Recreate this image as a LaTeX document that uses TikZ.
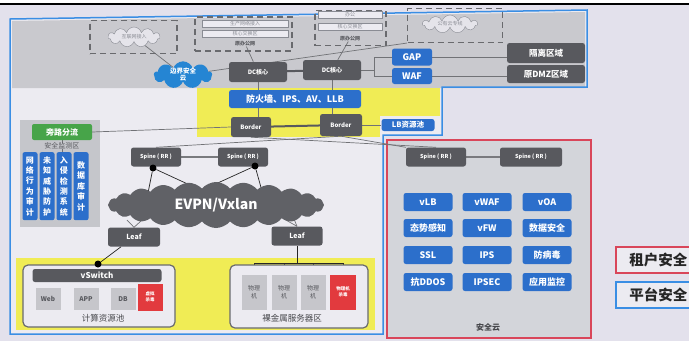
\documentclass[tikz,border=0pt]{standalone}
\usepackage{fontspec}
\setmainfont{Noto Sans CJK SC}
\usetikzlibrary{shapes.symbols,calc}
\pgfdeclarelayer{bg}\pgfdeclarelayer{ln}\pgfsetlayers{bg,ln,main}
\definecolor{pagebg}{HTML}{E3E1EC}
\definecolor{innerbg}{HTML}{ECEBF1}
\definecolor{band}{HTML}{C9C9CE}
\definecolor{dg}{HTML}{58595E}
\definecolor{bb}{HTML}{2C6FCB}
\definecolor{gr}{HTML}{47A449}
\definecolor{yel}{HTML}{F0EC55}
\definecolor{rd}{HTML}{E23A3E}
\definecolor{fb}{HTML}{3A8EE4}
\definecolor{fr}{HTML}{D9465A}
\definecolor{cg}{HTML}{D3D5DA}
\definecolor{vmg}{HTML}{C6C6CB}
\definecolor{panel}{HTML}{C5C6CB}
\definecolor{faint}{HTML}{8A8C94}
\tikzset{
  dnode/.style={fill=dg, rounded corners=2.5pt, text=white, font=\fontsize{6}{7}\selectfont\bfseries, inner sep=0pt},
  bnode/.style={fill=bb, rounded corners=2.5pt, text=white, font=\fontsize{9}{10}\selectfont\bfseries, inner sep=0pt},
  bbtn/.style={bnode, minimum width=49pt, minimum height=18pt},
  dbox/.style={draw=dg!90, dashed, dash pattern=on 6pt off 4pt, line width=1.1pt, inner sep=0pt},
  tcloud/.style={cloud, cloud puffs=11, cloud ignores aspect, draw=faint, fill=innerbg!80!band, text=faint, font=\fontsize{5}{6}\selectfont, inner sep=0pt},
  tbar/.style={draw=faint, fill=innerbg, text=faint, font=\fontsize{5}{6}\selectfont, minimum height=7pt, inner sep=0pt},
  ttxt/.style={text=dg, font=\fontsize{5}{6}\selectfont\bfseries, inner sep=0.5pt},
  conn/.style={draw=dg!85, line width=0.7pt},
  thick conn/.style={draw=dg, line width=2pt},
  vmbox/.style={fill=vmg, text=dg, font=\fontsize{6.5}{7}\selectfont\bfseries, inner sep=0pt, align=center},
  redbox/.style={fill=rd, text=white, font=\fontsize{4.5}{5.5}\selectfont\bfseries, inner sep=0pt, align=center},
  col/.style={fill=bb, rounded corners=2pt, text=white, font=\fontsize{8}{10.4}\selectfont\bfseries, minimum width=15pt, minimum height=68pt, text width=10pt, align=center, anchor=north, inner sep=1.5pt},
  stub/.style={draw=vmg!80!dg, line width=2.2pt, line cap=round},
  bdot/.style={circle, fill=black, minimum size=7pt, inner sep=0pt},
  grp/.style={draw=dg!90, fill=innerbg, rounded corners=5pt, line width=1.2pt, inner sep=0pt},
  legend/.style={fill=innerbg, line width=1.6pt, minimum width=85pt, minimum height=26pt, font=\fontsize{14.5}{16}\selectfont\bfseries, text=black!85, inner sep=0pt}
}
\begin{document}
\begin{tikzpicture}[x=1pt,y=-1pt]
\useasboundingbox (0,0) rectangle (689,341);
% ---------- background ----------
\begin{pgfonlayer}{bg}
\fill[pagebg] (0,0) rectangle (689,341);
\fill[white] (0,0) rectangle (689,2.5);
\fill[black] (0,2.5) rectangle (689,5);
\fill[innerbg] (10,19) -- (587,10) -- (587,87) -- (442,87) -- (442,135) -- (383,135) -- (383,334) -- (10,334) -- cycle;
\fill[band] (12,21) -- (585,12) -- (585,88) -- (12,88) -- cycle;
\fill[yel] (197,88) rectangle (440,116);
\fill[yel] (197,116) rectangle (380,137);
\fill[yel] (16,258) rectangle (375,330);
\fill[panel] (20,120) rectangle (100,227);
\fill[cg] (387,140) rectangle (591,338);
\draw[fr, line width=1.5pt] (387,140) rectangle (591,338);
\draw[fb, line width=1.5pt] (10,19) -- (587,10) -- (587,87) -- (442,87) -- (442,135) -- (383,135) -- (383,334) -- (10,334) -- cycle;
\end{pgfonlayer}
% ---------- top dashed areas ----------
\node[dbox, minimum width=87pt, minimum height=33pt] (box1) at (133.5,37) {};
\node[dbox, minimum width=97pt, minimum height=34pt] (box2) at (243.5,34) {};
\node[dbox, minimum width=71pt, minimum height=35pt] (box3) at (350.5,28) {};
\node[dbox, minimum width=95pt, minimum height=34pt] (box4) at (455,25.5) {};
\node[tcloud, minimum width=52pt, minimum height=20pt] (inet) at (134,37) {互联网接入};
\node[tbar, minimum width=86pt] (prod) at (245,23.5) {生产网络接入};
\node[tbar, minimum width=86pt] (core1) at (245,34) {核心交换区};
\node[ttxt] (oa1) at (245,43.5) {原办公网};
\node[tbar, minimum width=64pt] (off) at (350,15) {办公};
\node[tbar, minimum width=64pt] (core2) at (350,26.5) {核心交换区};
\node[ttxt] (oa2) at (350,38.5) {原办公网};
\node[tcloud, minimum width=55pt, minimum height=18pt] (pub) at (450,24) {公有云专线};
% ---------- core area ----------
\node[cloud, cloud puffs=9, cloud ignores aspect, fill=bb!85!cyan, minimum width=58pt, minimum height=25pt, text=white, font=\fontsize{6.5}{7}\selectfont\bfseries, align=center, inner sep=0pt] (bsec) at (183,75) {边界安全\\云};
\node[dnode, minimum width=58pt, minimum height=20pt] (dc1) at (258,72) {DC核心};
\node[dnode, minimum width=58pt, minimum height=20pt] (dc2) at (332,70) {DC核心};
\node[bnode, minimum width=40pt, minimum height=17pt] (gap) at (412,57) {GAP};
\node[bnode, minimum width=40pt, minimum height=16pt] (waf) at (412,76) {WAF};
\node[dnode, minimum width=78pt, minimum height=20pt, font=\fontsize{8.5}{10}\selectfont\bfseries] (iso) at (546,53) {隔离区域};
\node[dnode, minimum width=78pt, minimum height=18pt, font=\fontsize{8.5}{10}\selectfont\bfseries] (dmz) at (546,74) {原DMZ区域};
\node[bnode, minimum width=132pt, minimum height=18pt] (fw) at (295,99) {防火墙、IPS、AV、LLB};
\node[dnode, minimum width=40pt, minimum height=20pt] (bd1) at (251,127) {Border};
\node[dnode, minimum width=42pt, minimum height=22pt] (bd2) at (341,125) {Border};
\node[bnode, minimum width=53pt, minimum height=12pt, font=\fontsize{7.5}{9}\selectfont\bfseries] (lb) at (408,125) {LB资源池};
% ---------- monitoring ----------
\node[fill=gr, rounded corners=2pt, minimum width=60pt, minimum height=16pt, text=white, font=\fontsize{8}{9}\selectfont\bfseries, inner sep=0pt] (bypass) at (62,132) {旁路分流};
\node[text=dg, font=\fontsize{7}{8}\selectfont, inner sep=0pt, fill=panel] (monl) at (62,146) {安全监测区};
\node[col] (c1) at (30,152) {网\\络\\行\\为\\审\\计};
\node[col] (c2) at (47,152) {未\\知\\威\\胁\\防\\护};
\node[col] (c3) at (64,152) {入\\侵\\检\\测\\系\\统};
\node[col] (c4) at (81,152) {数\\据\\库\\审\\计};
% ---------- fabric ----------
\node[dnode, minimum width=50pt, minimum height=19pt, font=\fontsize{5.5}{6}\selectfont\bfseries] (s1) at (156,157) {Spine ( RR )};
\node[dnode, minimum width=50pt, minimum height=19pt, font=\fontsize{5.5}{6}\selectfont\bfseries] (s2) at (243,157) {Spine ( RR )};
\node[dnode, minimum width=60pt, minimum height=19pt, font=\fontsize{5.5}{6}\selectfont\bfseries] (s3) at (436,157) {Spine ( RR )};
\node[dnode, minimum width=62pt, minimum height=19pt, font=\fontsize{5.5}{6}\selectfont\bfseries] (s4) at (531,157) {Spine ( RR )};
\node[bdot] (d1) at (153,168) {};
\node[bdot] (d2) at (255,166) {};
\node[cloud, cloud puffs=24, cloud puff arc=100, cloud ignores aspect, fill=dg!95, minimum width=216pt, minimum height=46pt, text=white, font=\fontsize{14}{16}\selectfont\bfseries, inner sep=0pt] (evpn) at (216,205) {EVPN/Vxlan};
\node[dnode, minimum width=52pt, minimum height=19pt, font=\fontsize{7}{8}\selectfont\bfseries] (leaf1) at (134,237) {Leaf};
\node[dnode, minimum width=51pt, minimum height=19pt, font=\fontsize{7}{8}\selectfont\bfseries] (leaf2) at (297,236) {Leaf};
\coordinate (e1) at (148,193);
\coordinate (e2) at (205,192);
\coordinate (e3) at (198,192);
\coordinate (e4) at (262,191);
\coordinate (e5) at (127,220);
\coordinate (e6) at (141,221);
\coordinate (e7) at (284,219);
\coordinate (e8) at (294,219);
% ---------- compute pool ----------
\node[grp, minimum width=152pt, minimum height=62pt] (cpool) at (99,296) {};
\node[bdot] (d3) at (98,264) {};
\node[dnode, minimum width=129pt, minimum height=13pt, font=\fontsize{8}{9}\selectfont\bfseries] (vsw) at (97,275.5) {vSwitch};
\node[vmbox, minimum width=25pt, minimum height=22pt] (web) at (48,299) {Web};
\node[vmbox, minimum width=25pt, minimum height=22pt] (app) at (86,299) {APP};
\node[vmbox, minimum width=25pt, minimum height=22pt] (db) at (123,299) {DB};
\node[redbox, minimum width=25pt, minimum height=27pt] (vk) at (150,297) {虚拟\\杀毒};
\node[text=dg!80!black, font=\fontsize{8.5}{9}\selectfont, inner sep=0pt] (cpl) at (103,318) {计算资源池};
% ---------- bare metal ----------
\node[grp, minimum width=138pt, minimum height=63pt] (bare) at (299,296.5) {};
\node[vmbox, minimum width=25pt, minimum height=35pt, font=\fontsize{6}{8}\selectfont] (pm1) at (254,292) {物理\\机};
\node[vmbox, minimum width=25pt, minimum height=35pt, font=\fontsize{6}{8}\selectfont] (pm2) at (284,292) {物理\\机};
\node[vmbox, minimum width=25pt, minimum height=35pt, font=\fontsize{6}{8}\selectfont] (pm3) at (313,292) {物理\\机};
\node[redbox, minimum width=26pt, minimum height=35pt] (pmk) at (343,292) {物理机\\杀毒};
\node[text=dg!80!black, font=\fontsize{8.5}{9}\selectfont, inner sep=0pt] (bml) at (292,318) {裸金属服务器区};
\coordinate (bus) at (297,263);
% ---------- security cloud ----------
\node[bbtn] (vlb) at (428,202) {vLB};
\node[bbtn] (vwaf) at (487,202) {vWAF};
\node[bbtn] (voa) at (547,202) {vOA};
\node[bbtn] (tai) at (428,228) {态势感知};
\node[bbtn] (vfw) at (487,228) {vFW};
\node[bbtn] (dsec) at (547,228) {数据安全};
\node[bbtn] (ssl) at (428,255) {SSL};
\node[bbtn] (ips) at (487,255) {IPS};
\node[bbtn] (av) at (547,255) {防病毒};
\node[bbtn] (ddos) at (428,282) {抗DDOS};
\node[bbtn] (ipsec) at (487,282) {IPSEC};
\node[bbtn] (mon) at (547,282) {应用监控};
\node[text=dg!80!black, font=\fontsize{8}{9}\selectfont\bfseries, inner sep=0pt] (secl) at (488,327) {安全云};
% ---------- legend ----------
\node[legend, draw=fr, anchor=west] (ten) at (615,260) {租户安全};
\node[legend, draw=fb, anchor=west] (plat) at (615,295) {平台安全};
% ---------- connectors ----------
\begin{pgfonlayer}{ln}
\draw[conn] (inet) -- (bsec);
\draw[conn] (oa1) -- (dc1);
\draw[conn] (oa2) -- (dc2);
\draw[conn] (bsec) -- (box4.south west);
\draw[thick conn] (dc1) -- (dc2);
\draw[conn] (dc2.east) -- (374,70) coordinate (br);
\draw[conn] (gap.west) -| (br);
\draw[conn] (waf.west) -| (br);
\draw[conn] (gap.east) -- (gap.east -| iso.west);
\draw[conn] (waf.east) -- (waf.east -| dmz.west);
\draw[conn] (dc1.south) -- (dc1.south |- bd1.north);
\draw[conn] (dc2.south) -- (dc2.south |- bd2.north);
\draw[thick conn] (bd1) -- (bd2);
\draw[conn] (bd2) -- (lb);
\draw[conn] (bypass.east) -- (bd1.west);
\draw[conn] (bypass.south) -- (bypass.south |- c3.north);
\draw[conn] (bd2.south) -- (s1.north);
\draw[conn] (bd1.south) -- (s3.north);
\draw[conn] (bd2.south) -- (s3.north west);
\draw[thick conn, draw=dg!80] (s1) -- (s2);
\draw[thick conn, draw=dg!80] (s3) -- (s4);
\draw[conn, draw=black!85] (d1) -- (e1);
\draw[conn, draw=black!85] (d1) -- (e2);
\draw[conn, draw=black!85] (d2) -- (e3);
\draw[conn, draw=black!85] (d2) -- (e4);
\draw[conn] (e5) -- (leaf1.north);
\draw[conn] (e6) -- (leaf1.north);
\draw[conn] (e7) -- (leaf2.north);
\draw[conn] (e8) -- (leaf2.north);
\draw[conn, draw=black!85] (leaf1) -- (d3);
\draw[stub] (vsw.south -| web.north) -- (web.north);
\draw[stub] (vsw.south -| app.north) -- (app.north);
\draw[stub] (vsw.south -| db.north) -- (db.north);
\draw[stub, draw=rd] (vsw.south -| vk.north) -- (vk.north);
\draw[conn, draw=black!85] (leaf2.south) -- (bus);
\draw[conn, draw=black!85] (pm1.north) -- (pm1.north |- bus) -- (pmk.north |- bus) -- (pmk.north);
\draw[conn, draw=black!85] (pm2.north) -- (pm2.north |- bus);
\draw[conn, draw=black!85] (pm3.north) -- (pm3.north |- bus);
\end{pgfonlayer}
\end{tikzpicture}
\end{document}
